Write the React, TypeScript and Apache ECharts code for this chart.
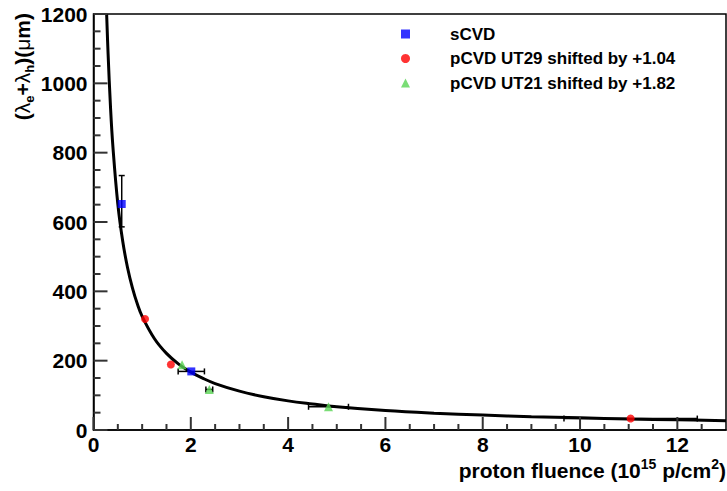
import React, { useEffect, useRef } from "react";
import * as echarts from "echarts";

// Fit curve
const curveX = [0.27, 0.3, 0.35, 0.4, 0.5, 0.6, 0.7, 0.8, 0.9, 1.0, 1.25, 1.5, 1.75, 2.0, 2.25, 2.5, 3.0, 3.5, 4.0, 4.5, 5.0, 6.0, 7.0, 8.0, 9.0, 10.0, 11.0, 12.0, 13.0];
const curveY = [1200, 1085, 930, 815, 652, 545, 468, 410, 364, 328, 264, 221, 190, 167, 149, 134, 112, 96, 84, 75, 67, 56, 48.5, 43, 38.5, 35, 32, 29.3, 27];

// sCVD
const scvdX = [0.58, 2.01];
const scvdY = [652, 169];
const scvdXErr = [0, 0.27];
const scvdYErrLo = [66, 0];
const scvdYErrHi = [82, 0];

// pCVD UT29 shifted by +1.04
const ut29X = [1.06, 1.59, 11.04];
const ut29Y = [320, 189, 33];
const ut29XErr = [0, 0, 1.37];

// pCVD UT21 shifted by +1.82
const ut21X = [1.82, 2.38, 4.83];
const ut21Y = [188, 117, 67];
const ut21XErr = [0, 0.07, 0.41];

const seriesNames = ["sCVD", "pCVD UT29 shifted by +1.04", "pCVD UT21 shifted by +1.82"];

// Axis ticks
const xMajorTicks = [0, 2, 4, 6, 8, 10, 12];
const xMinorTicks = [0.5, 1, 1.5, 2.5, 3, 3.5, 4.5, 5, 5.5, 6.5, 7, 7.5, 8.5, 9, 9.5, 10.5, 11, 11.5, 12.5];
const yMajorTicks = [0, 200, 400, 600, 800, 1000, 1200];
const yMinorTicks = [50, 100, 150, 250, 300, 350, 450, 500, 550, 650, 700, 750, 850, 900, 950, 1050, 1100, 1150];

const FONT = "'Liberation Sans', Arial, Helvetica, sans-serif";
const TICK_COLOR = "#333333";

export default function App() {
  const ref = useRef<HTMLDivElement>(null);
  useEffect(() => {
    if (!ref.current) return;
    document.body.style.margin = "0";
    const chart = echarts.init(ref.current, undefined, { renderer: "svg" });

    const errData: number[][] = [];
    scvdX.forEach((x, i) => errData.push([x, scvdY[i], scvdXErr[i], scvdXErr[i], scvdYErrLo[i], scvdYErrHi[i]]));
    ut29X.forEach((x, i) => errData.push([x, ut29Y[i], ut29XErr[i], ut29XErr[i], 0, 0]));
    ut21X.forEach((x, i) => errData.push([x, ut21Y[i], ut21XErr[i], ut21XErr[i], 0, 0]));

    // [x, y, pixel dx, pixel dy]
    const tickData: number[][] = [];
    xMajorTicks.forEach((v) => tickData.push([v, 0, 0, -13]));
    xMinorTicks.forEach((v) => tickData.push([v, 0, 0, -6]));
    yMajorTicks.forEach((v) => tickData.push([0, v, 14, 0]));
    yMinorTicks.forEach((v) => tickData.push([0, v, 7, 0]));

    const cap = 3;
    const errStyle = { stroke: "#000", lineWidth: 1.5 };

    const option: any = {
      animation: false,
      backgroundColor: "#fff",
      grid: {
        left: 93.5,
        right: 1,
        top: 14,
        bottom: 61,
        show: true,
        backgroundColor: "transparent",
        borderColor: "#000",
        borderWidth: 1.5,
        containLabel: false,
      },
      xAxis: {
        type: "value",
        min: 0,
        max: 13,
        interval: 2,
        splitLine: { show: false },
        axisLine: { show: true, onZero: false, lineStyle: { color: "#000", width: 1.5 } },
        axisTick: { show: false },
        axisLabel: {
          show: true,
          margin: 4,
          showMaxLabel: false,
          color: "#000",
          fontFamily: FONT,
          fontWeight: "bold",
          fontSize: 21,
        },
      },
      yAxis: {
        type: "value",
        min: 0,
        max: 1200,
        interval: 200,
        splitLine: { show: false },
        axisLine: { show: true, onZero: false, lineStyle: { color: "#000", width: 1.5 } },
        axisTick: { show: false },
        axisLabel: {
          margin: 6,
          color: "#000",
          fontFamily: FONT,
          fontWeight: "bold",
          fontSize: 21,
          padding: [6, 0, 0, 0],
          formatter: (v: number) => String(v),
        },
      },
      legend: {
        show: true,
        orient: "vertical",
        left: 396,
        top: 19,
        itemWidth: 9,
        itemHeight: 9,
        itemGap: 4.5,
        selectedMode: false,
        data: seriesNames,
        textStyle: {
          color: "#000",
          fontFamily: FONT,
          fontWeight: "bold",
          fontSize: 17,
          lineHeight: 20,
          padding: [0, 0, 0, 35],
        },
      },
      series: [
        {
          name: "fit",
          type: "line",
          data: curveX.map((x, i) => [x, curveY[i]]),
          smooth: 0.4,
          showSymbol: false,
          symbol: "none",
          lineStyle: { color: "#000", width: 3 },
          z: 2,
        },
        {
          name: "errors",
          type: "custom",
          data: errData,
          encode: { x: 0, y: 1 },
          z: 3,
          renderItem: (params: any, api: any) => {
            const x = api.value(0);
            const y = api.value(1);
            const xl = api.value(2);
            const xh = api.value(3);
            const yl = api.value(4);
            const yh = api.value(5);
            const children: any[] = [];
            if (xl > 0 || xh > 0) {
              const a = api.coord([x - xl, y]);
              const b = api.coord([x + xh, y]);
              children.push({ type: "line", shape: { x1: a[0], y1: a[1], x2: b[0], y2: b[1] }, style: errStyle });
              children.push({ type: "line", shape: { x1: a[0], y1: a[1] - cap, x2: a[0], y2: a[1] + cap }, style: errStyle });
              children.push({ type: "line", shape: { x1: b[0], y1: b[1] - cap, x2: b[0], y2: b[1] + cap }, style: errStyle });
            }
            if (yl > 0 || yh > 0) {
              const a = api.coord([x, y - yl]);
              const b = api.coord([x, y + yh]);
              children.push({ type: "line", shape: { x1: a[0], y1: a[1], x2: b[0], y2: b[1] }, style: errStyle });
              children.push({ type: "line", shape: { x1: a[0] - cap, y1: a[1], x2: a[0] + cap, y2: a[1] }, style: errStyle });
              children.push({ type: "line", shape: { x1: b[0] - cap, y1: b[1], x2: b[0] + cap, y2: b[1] }, style: errStyle });
            }
            return { type: "group", children };
          },
        },
        {
          name: "ticks",
          type: "custom",
          data: tickData,
          encode: { x: 0, y: 1 },
          z: 5,
          clip: false,
          renderItem: (params: any, api: any) => {
            const p = api.coord([api.value(0), api.value(1)]);
            const dx = api.value(2);
            const dy = api.value(3);
            return {
              type: "group",
              children: [
                { type: "line", shape: { x1: p[0], y1: p[1], x2: p[0] + dx, y2: p[1] + dy }, style: { stroke: TICK_COLOR, lineWidth: 2 } },
              ],
            };
          },
        },
        {
          name: seriesNames[0],
          type: "scatter",
          data: scvdX.map((x, i) => [x, scvdY[i]]),
          symbol: "rect",
          symbolSize: 8,
          itemStyle: { color: "#0000ff" },
          z: 4,
        },
        {
          name: seriesNames[1],
          type: "scatter",
          data: ut29X.map((x, i) => [x, ut29Y[i]]),
          symbol: "circle",
          symbolSize: 8,
          itemStyle: { color: "#ff0000" },
          z: 4,
        },
        {
          name: seriesNames[2],
          type: "scatter",
          data: ut21X.map((x, i) => [x, ut21Y[i]]),
          symbol: "triangle",
          symbolSize: 9,
          itemStyle: { color: "#59d454" },
          z: 4,
        },
      ],
      graphic: [
        {
          type: "text",
          right: 1,
          top: 457,
          style: {
            text: "proton fluence (10{sup|15} p/cm{sup|2})",
            fill: "#000",
            fontFamily: FONT,
            fontWeight: "bold",
            fontSize: 21,
            lineHeight: 27,
            rich: {
              sup: { fontSize: 14, fontWeight: "bold", fontFamily: FONT, verticalAlign: "top", lineHeight: 27, fill: "#000" },
            },
          },
        },
        {
          type: "text",
          x: 22,
          y: 13,
          rotation: Math.PI / 2,
          style: {
            x: 0,
            y: 0,
            text: "({l|λ}{sub|e}+{l|λ}{sub|h})({l|μ}m)",
            align: "right",
            verticalAlign: "middle",
            fill: "#000",
            fontFamily: FONT,
            fontWeight: "bold",
            fontSize: 21,
            lineHeight: 28,
            rich: {
              l: { fontSize: 21, fontWeight: "normal", fontFamily: FONT, lineHeight: 28, fill: "#000" },
              sub: { fontSize: 13, fontWeight: "bold", fontFamily: FONT, verticalAlign: "bottom", lineHeight: 28, fill: "#000" },
            },
          },
        },
      ],
    };
    chart.setOption(option);
    return () => chart.dispose();
  }, []);
  return <div ref={ref} style={{ width: 727, height: 491 }} />;
}
